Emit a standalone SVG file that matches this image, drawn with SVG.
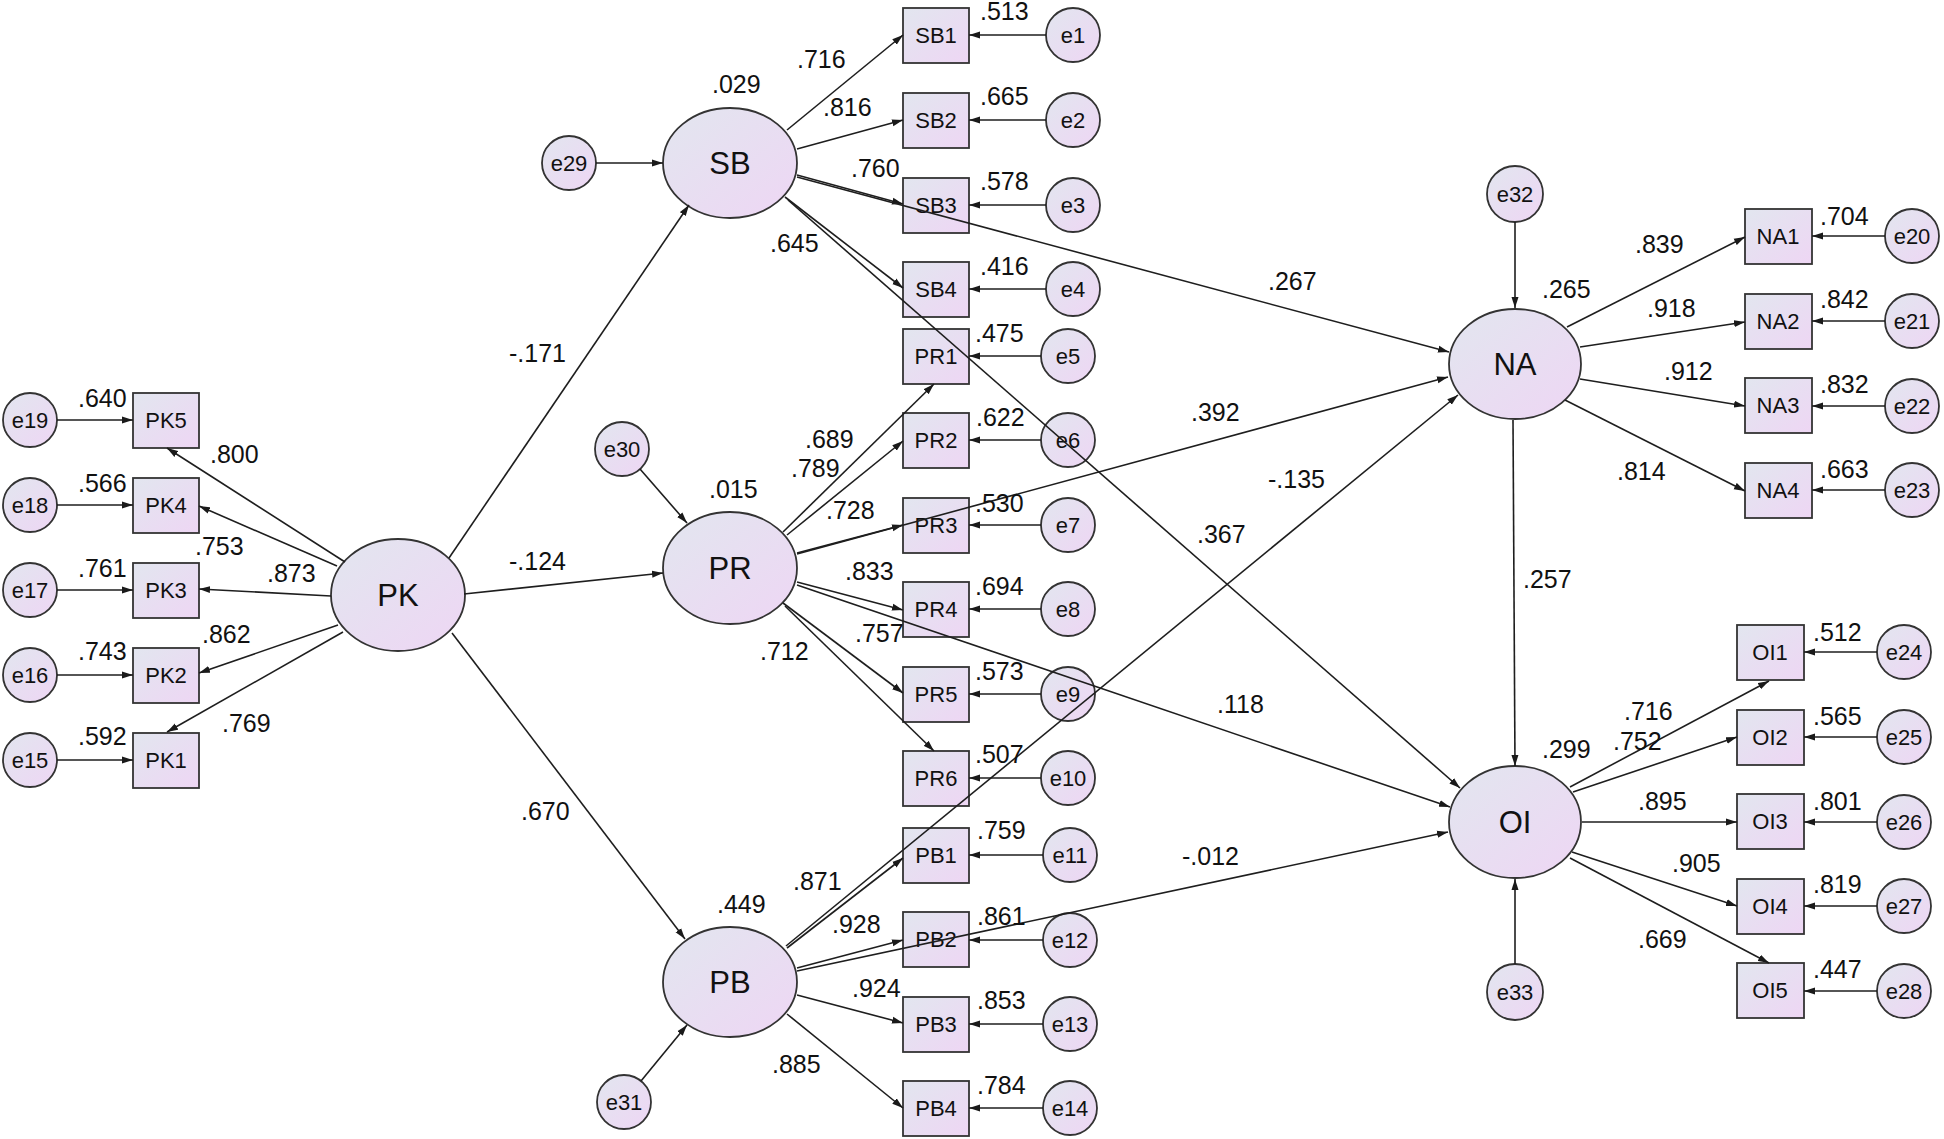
<svg xmlns="http://www.w3.org/2000/svg" width="1944" height="1139" viewBox="0 0 1944 1139">
<defs>
<linearGradient id="g" x1="0" y1="0" x2="1" y2="1">
<stop offset="0" stop-color="#e2e6ef"/>
<stop offset="1" stop-color="#eed6f4"/>
</linearGradient>
<marker id="a" markerUnits="userSpaceOnUse" markerWidth="11" markerHeight="8" refX="11" refY="4" orient="auto">
<path d="M0,0.5 L11,4 L0,7.5 z" fill="#1a1a1a"/>
</marker>
</defs>
<style>
.n{fill:url(#g);stroke:#333;stroke-width:1.8}
.c line{stroke:#1e1e1e;stroke-width:1.6;marker-end:url(#a)}
text{font-family:"Liberation Sans",Arial,sans-serif;fill:#111}
.l{font-size:25px}
.t{font-size:22px;text-anchor:middle}
.L{font-size:31px;text-anchor:middle}
</style>
<rect width="1944" height="1139" fill="#fff"/>

<!-- latent variables -->
<g id="PK"><ellipse class="n" cx="398" cy="595" rx="67" ry="56"/><text class="L" x="398" y="606">PK</text></g>
<g id="SB"><ellipse class="n" cx="730" cy="163" rx="67" ry="55"/><text class="L" x="730" y="174">SB</text></g>
<g id="PR"><ellipse class="n" cx="730" cy="568" rx="67" ry="56"/><text class="L" x="730" y="579">PR</text></g>
<g id="PB"><ellipse class="n" cx="730" cy="982" rx="67" ry="55"/><text class="L" x="730" y="993">PB</text></g>
<g id="NA"><ellipse class="n" cx="1515" cy="364" rx="66" ry="55"/><text class="L" x="1515" y="375">NA</text></g>
<g id="OI"><ellipse class="n" cx="1515" cy="822" rx="66" ry="56"/><text class="L" x="1515" y="833">OI</text></g>

<!-- PK indicators -->
<g id="PK5"><rect class="n" x="133" y="393" width="66" height="55"/><text class="t" x="166" y="428">PK5</text></g>
<g id="PK4"><rect class="n" x="133" y="478" width="66" height="55"/><text class="t" x="166" y="513">PK4</text></g>
<g id="PK3"><rect class="n" x="133" y="563" width="66" height="55"/><text class="t" x="166" y="598">PK3</text></g>
<g id="PK2"><rect class="n" x="133" y="648" width="66" height="55"/><text class="t" x="166" y="683">PK2</text></g>
<g id="PK1"><rect class="n" x="133" y="733" width="66" height="55"/><text class="t" x="166" y="768">PK1</text></g>

<!-- SB/PR/PB indicators -->
<g id="SB1"><rect class="n" x="903" y="8" width="66" height="55"/><text class="t" x="936" y="43">SB1</text></g>
<g id="SB2"><rect class="n" x="903" y="93" width="66" height="55"/><text class="t" x="936" y="128">SB2</text></g>
<g id="SB3"><rect class="n" x="903" y="178" width="66" height="55"/><text class="t" x="936" y="213">SB3</text></g>
<g id="SB4"><rect class="n" x="903" y="262" width="66" height="55"/><text class="t" x="936" y="297">SB4</text></g>
<g id="PR1"><rect class="n" x="903" y="329" width="66" height="55"/><text class="t" x="936" y="364">PR1</text></g>
<g id="PR2"><rect class="n" x="903" y="413" width="66" height="55"/><text class="t" x="936" y="448">PR2</text></g>
<g id="PR3"><rect class="n" x="903" y="498" width="66" height="55"/><text class="t" x="936" y="533">PR3</text></g>
<g id="PR4"><rect class="n" x="903" y="582" width="66" height="55"/><text class="t" x="936" y="617">PR4</text></g>
<g id="PR5"><rect class="n" x="903" y="667" width="66" height="55"/><text class="t" x="936" y="702">PR5</text></g>
<g id="PR6"><rect class="n" x="903" y="751" width="66" height="55"/><text class="t" x="936" y="786">PR6</text></g>
<g id="PB1"><rect class="n" x="903" y="828" width="66" height="55"/><text class="t" x="936" y="863">PB1</text></g>
<g id="PB2"><rect class="n" x="903" y="912" width="66" height="55"/><text class="t" x="936" y="947">PB2</text></g>
<g id="PB3"><rect class="n" x="903" y="997" width="66" height="55"/><text class="t" x="936" y="1032">PB3</text></g>
<g id="PB4"><rect class="n" x="903" y="1081" width="66" height="55"/><text class="t" x="936" y="1116">PB4</text></g>

<!-- NA / OI indicators -->
<g id="NA1"><rect class="n" x="1745" y="209" width="67" height="55"/><text class="t" x="1778" y="244">NA1</text></g>
<g id="NA2"><rect class="n" x="1745" y="294" width="67" height="55"/><text class="t" x="1778" y="329">NA2</text></g>
<g id="NA3"><rect class="n" x="1745" y="378" width="67" height="55"/><text class="t" x="1778" y="413">NA3</text></g>
<g id="NA4"><rect class="n" x="1745" y="463" width="67" height="55"/><text class="t" x="1778" y="498">NA4</text></g>
<g id="OI1"><rect class="n" x="1737" y="625" width="67" height="55"/><text class="t" x="1770" y="660">OI1</text></g>
<g id="OI2"><rect class="n" x="1737" y="710" width="67" height="55"/><text class="t" x="1770" y="745">OI2</text></g>
<g id="OI3"><rect class="n" x="1737" y="794" width="67" height="55"/><text class="t" x="1770" y="829">OI3</text></g>
<g id="OI4"><rect class="n" x="1737" y="879" width="67" height="55"/><text class="t" x="1770" y="914">OI4</text></g>
<g id="OI5"><rect class="n" x="1737" y="963" width="67" height="55"/><text class="t" x="1770" y="998">OI5</text></g>

<!-- error terms -->
<g id="e19"><circle class="n" cx="30" cy="420" r="27"/><text class="t" x="30" y="428">e19</text></g>
<g id="e18"><circle class="n" cx="30" cy="505" r="27"/><text class="t" x="30" y="513">e18</text></g>
<g id="e17"><circle class="n" cx="30" cy="590" r="27"/><text class="t" x="30" y="598">e17</text></g>
<g id="e16"><circle class="n" cx="30" cy="675" r="27"/><text class="t" x="30" y="683">e16</text></g>
<g id="e15"><circle class="n" cx="30" cy="760" r="27"/><text class="t" x="30" y="768">e15</text></g>
<g id="e29"><circle class="n" cx="569" cy="163" r="27"/><text class="t" x="569" y="171">e29</text></g>
<g id="e30"><circle class="n" cx="622" cy="449" r="27"/><text class="t" x="622" y="457">e30</text></g>
<g id="e31"><circle class="n" cx="624" cy="1102" r="27"/><text class="t" x="624" y="1110">e31</text></g>
<g id="e1"><circle class="n" cx="1073" cy="35" r="27"/><text class="t" x="1073" y="43">e1</text></g>
<g id="e2"><circle class="n" cx="1073" cy="120" r="27"/><text class="t" x="1073" y="128">e2</text></g>
<g id="e3"><circle class="n" cx="1073" cy="205" r="27"/><text class="t" x="1073" y="213">e3</text></g>
<g id="e4"><circle class="n" cx="1073" cy="289" r="27"/><text class="t" x="1073" y="297">e4</text></g>
<g id="e5"><circle class="n" cx="1068" cy="356" r="27"/><text class="t" x="1068" y="364">e5</text></g>
<g id="e6"><circle class="n" cx="1068" cy="440" r="27"/><text class="t" x="1068" y="448">e6</text></g>
<g id="e7"><circle class="n" cx="1068" cy="525" r="27"/><text class="t" x="1068" y="533">e7</text></g>
<g id="e8"><circle class="n" cx="1068" cy="609" r="27"/><text class="t" x="1068" y="617">e8</text></g>
<g id="e9"><circle class="n" cx="1068" cy="694" r="27"/><text class="t" x="1068" y="702">e9</text></g>
<g id="e10"><circle class="n" cx="1068" cy="778" r="27"/><text class="t" x="1068" y="786">e10</text></g>
<g id="e11"><circle class="n" cx="1070" cy="855" r="27"/><text class="t" x="1070" y="863">e11</text></g>
<g id="e12"><circle class="n" cx="1070" cy="940" r="27"/><text class="t" x="1070" y="948">e12</text></g>
<g id="e13"><circle class="n" cx="1070" cy="1024" r="27"/><text class="t" x="1070" y="1032">e13</text></g>
<g id="e14"><circle class="n" cx="1070" cy="1108" r="27"/><text class="t" x="1070" y="1116">e14</text></g>
<g id="e32"><circle class="n" cx="1515" cy="194" r="28"/><text class="t" x="1515" y="202">e32</text></g>
<g id="e33"><circle class="n" cx="1515" cy="992" r="28"/><text class="t" x="1515" y="1000">e33</text></g>
<g id="e20"><circle class="n" cx="1912" cy="236" r="27"/><text class="t" x="1912" y="244">e20</text></g>
<g id="e21"><circle class="n" cx="1912" cy="321" r="27"/><text class="t" x="1912" y="329">e21</text></g>
<g id="e22"><circle class="n" cx="1912" cy="406" r="27"/><text class="t" x="1912" y="414">e22</text></g>
<g id="e23"><circle class="n" cx="1912" cy="490" r="27"/><text class="t" x="1912" y="498">e23</text></g>
<g id="e24"><circle class="n" cx="1904" cy="652" r="27"/><text class="t" x="1904" y="660">e24</text></g>
<g id="e25"><circle class="n" cx="1904" cy="737" r="27"/><text class="t" x="1904" y="745">e25</text></g>
<g id="e26"><circle class="n" cx="1904" cy="822" r="27"/><text class="t" x="1904" y="830">e26</text></g>
<g id="e27"><circle class="n" cx="1904" cy="906" r="27"/><text class="t" x="1904" y="914">e27</text></g>
<g id="e28"><circle class="n" cx="1904" cy="991" r="27"/><text class="t" x="1904" y="999">e28</text></g>

<g class="c" id="connectors">
<!-- PK side -->
<line x1="57" y1="420" x2="133" y2="420"/>
<line x1="57" y1="505" x2="133" y2="505"/>
<line x1="57" y1="590" x2="133" y2="590"/>
<line x1="57" y1="675" x2="133" y2="675"/>
<line x1="57" y1="760" x2="133" y2="760"/>
<line x1="345" y1="562" x2="167" y2="448"/>
<line x1="337" y1="566" x2="199" y2="506"/>
<line x1="331" y1="596" x2="199" y2="589"/>
<line x1="338" y1="625" x2="199" y2="673"/>
<line x1="343" y1="632" x2="167" y2="732"/>
<line x1="449" y1="558" x2="689" y2="205"/>
<line x1="464" y1="594" x2="663" y2="573"/>
<line x1="452" y1="633" x2="685" y2="939"/>
<!-- SB -->
<line x1="596" y1="163" x2="663" y2="163"/>
<line x1="787" y1="130" x2="903" y2="35"/>
<line x1="797" y1="149" x2="903" y2="120"/>
<line x1="797" y1="175" x2="903" y2="204"/>
<line x1="785" y1="197" x2="903" y2="288"/>
<line x1="797" y1="177" x2="1449" y2="352"/>
<line x1="788" y1="200" x2="1460" y2="788"/>
<line x1="1046" y1="35" x2="969" y2="35"/>
<line x1="1046" y1="120" x2="969" y2="120"/>
<line x1="1046" y1="205" x2="969" y2="205"/>
<line x1="1046" y1="289" x2="969" y2="289"/>
<!-- PR -->
<line x1="640" y1="469" x2="687" y2="523"/>
<line x1="783" y1="532" x2="934" y2="384"/>
<line x1="787" y1="535" x2="903" y2="441"/>
<line x1="797" y1="553" x2="903" y2="525"/>
<line x1="797" y1="554" x2="1448" y2="377"/>
<line x1="797" y1="582" x2="903" y2="610"/>
<line x1="797" y1="585" x2="1450" y2="807"/>
<line x1="783" y1="603" x2="903" y2="693"/>
<line x1="785" y1="606" x2="934" y2="751"/>
<line x1="1041" y1="356" x2="969" y2="356"/>
<line x1="1041" y1="440" x2="969" y2="440"/>
<line x1="1041" y1="525" x2="969" y2="525"/>
<line x1="1041" y1="609" x2="969" y2="609"/>
<line x1="1041" y1="694" x2="969" y2="694"/>
<line x1="1041" y1="778" x2="969" y2="778"/>
<!-- PB -->
<line x1="641" y1="1081" x2="687" y2="1025"/>
<line x1="787" y1="948" x2="903" y2="858"/>
<line x1="786" y1="946" x2="1458" y2="395"/>
<line x1="797" y1="968" x2="903" y2="940"/>
<line x1="797" y1="971" x2="1448" y2="832"/>
<line x1="797" y1="995" x2="903" y2="1023"/>
<line x1="787" y1="1014" x2="903" y2="1108"/>
<line x1="1043" y1="855" x2="969" y2="855"/>
<line x1="1043" y1="940" x2="969" y2="940"/>
<line x1="1043" y1="1024" x2="969" y2="1024"/>
<line x1="1043" y1="1108" x2="969" y2="1108"/>
<!-- NA -->
<line x1="1515" y1="222" x2="1515" y2="308"/>
<line x1="1567" y1="327" x2="1745" y2="237"/>
<line x1="1580" y1="347" x2="1745" y2="322"/>
<line x1="1580" y1="379" x2="1745" y2="406"/>
<line x1="1565" y1="400" x2="1745" y2="491"/>
<line x1="1513" y1="420" x2="1515" y2="766"/>
<line x1="1885" y1="236" x2="1812" y2="236"/>
<line x1="1885" y1="321" x2="1812" y2="321"/>
<line x1="1885" y1="406" x2="1812" y2="406"/>
<line x1="1885" y1="490" x2="1812" y2="490"/>
<!-- OI -->
<line x1="1515" y1="964" x2="1515" y2="879"/>
<line x1="1570" y1="787" x2="1769" y2="681"/>
<line x1="1573" y1="792" x2="1737" y2="737"/>
<line x1="1582" y1="822" x2="1737" y2="822"/>
<line x1="1572" y1="852" x2="1737" y2="906"/>
<line x1="1570" y1="858" x2="1769" y2="963"/>
<line x1="1877" y1="652" x2="1804" y2="652"/>
<line x1="1877" y1="737" x2="1804" y2="737"/>
<line x1="1877" y1="822" x2="1804" y2="822"/>
<line x1="1877" y1="906" x2="1804" y2="906"/>
<line x1="1877" y1="991" x2="1804" y2="991"/>
</g>

<g id="labels" class="l">
<text x="78" y="407">.640</text>
<text x="78" y="492">.566</text>
<text x="78" y="577">.761</text>
<text x="78" y="660">.743</text>
<text x="78" y="745">.592</text>
<text x="210" y="463">.800</text>
<text x="195" y="555">.753</text>
<text x="267" y="582">.873</text>
<text x="202" y="643">.862</text>
<text x="222" y="732">.769</text>
<text x="509" y="362">-.171</text>
<text x="509" y="570">-.124</text>
<text x="521" y="820">.670</text>
<text x="712" y="93">.029</text>
<text x="797" y="68">.716</text>
<text x="823" y="116">.816</text>
<text x="851" y="177">.760</text>
<text x="770" y="252">.645</text>
<text x="980" y="20">.513</text>
<text x="980" y="105">.665</text>
<text x="980" y="190">.578</text>
<text x="980" y="275">.416</text>
<text x="975" y="342">.475</text>
<text x="976" y="426">.622</text>
<text x="805" y="448">.689</text>
<text x="791" y="477">.789</text>
<text x="709" y="498">.015</text>
<text x="826" y="519">.728</text>
<text x="975" y="512">.530</text>
<text x="845" y="580">.833</text>
<text x="975" y="595">.694</text>
<text x="855" y="642">.757</text>
<text x="760" y="660">.712</text>
<text x="975" y="680">.573</text>
<text x="975" y="763">.507</text>
<text x="717" y="913">.449</text>
<text x="793" y="890">.871</text>
<text x="832" y="933">.928</text>
<text x="852" y="997">.924</text>
<text x="772" y="1073">.885</text>
<text x="977" y="839">.759</text>
<text x="977" y="925">.861</text>
<text x="977" y="1009">.853</text>
<text x="977" y="1094">.784</text>
<text x="1268" y="290">.267</text>
<text x="1191" y="421">.392</text>
<text x="1268" y="488">-.135</text>
<text x="1197" y="543">.367</text>
<text x="1217" y="713">.118</text>
<text x="1182" y="865">-.012</text>
<text x="1523" y="588">.257</text>
<text x="1542" y="298">.265</text>
<text x="1542" y="758">.299</text>
<text x="1635" y="253">.839</text>
<text x="1647" y="317">.918</text>
<text x="1664" y="380">.912</text>
<text x="1617" y="480">.814</text>
<text x="1820" y="225">.704</text>
<text x="1820" y="308">.842</text>
<text x="1820" y="393">.832</text>
<text x="1820" y="478">.663</text>
<text x="1624" y="720">.716</text>
<text x="1613" y="750">.752</text>
<text x="1638" y="810">.895</text>
<text x="1672" y="872">.905</text>
<text x="1638" y="948">.669</text>
<text x="1813" y="641">.512</text>
<text x="1813" y="725">.565</text>
<text x="1813" y="810">.801</text>
<text x="1813" y="893">.819</text>
<text x="1813" y="978">.447</text>
</g>
</svg>
